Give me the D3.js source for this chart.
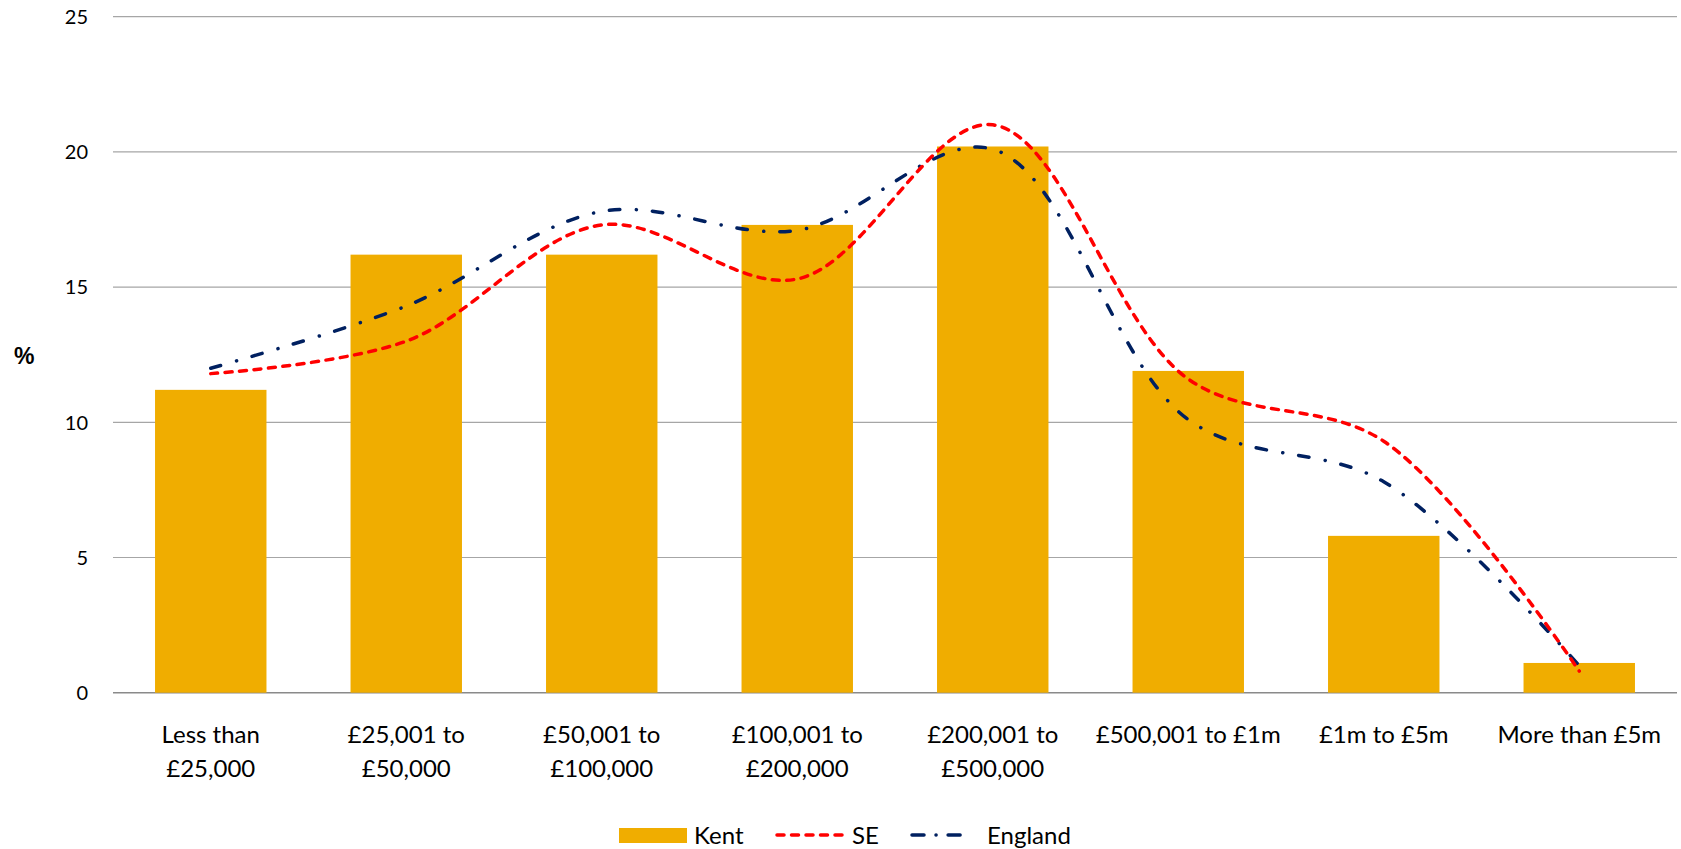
<!DOCTYPE html>
<html>
<head>
<meta charset="utf-8">
<script src="https://cdn.jsdelivr.net/npm/d3@7"></script>
<style>
  body { margin: 0; background: #fff; }
  text { font-family: Lato, "Open Sans", sans-serif; fill: #000; }
</style>
</head>
<body>
<div id="chart"></div>
<script>
const categories = [
  "Less than\n£25,000", "£25,001 to\n£50,000", "£50,001 to\n£100,000",
  "£100,001 to\n£200,000", "£200,001 to\n£500,000", "£500,001 to £1m",
  "£1m to £5m", "More than £5m"
];
const kent = [11.2, 16.2, 16.2, 17.3, 20.2, 11.9, 5.8, 1.1];
const se = [11.8, 13.0, 17.3, 15.3, 21.0, 11.6, 9.3, 0.8];
const england = [12.0, 14.3, 17.8, 17.1, 20.1, 10.1, 7.8, 1.0];
const yTicks = [0, 5, 10, 15, 20, 25];

const width = 1681, height = 849;
const margin = {top: 16.7, right: 4, bottom: 156.3, left: 113};

const svg = d3.select("#chart").append("svg")
  .attr("width", width)
  .attr("height", height);

const x = d3.scaleBand()
  .domain(d3.range(categories.length))
  .range([margin.left, width - margin.right])
  .paddingInner(0.43)
  .paddingOuter(0.215);

const y = d3.scaleLinear()
  .domain([0, 25])
  .range([height - margin.bottom, margin.top]);

// gridlines
svg.append("g")
  .selectAll("line")
  .data(yTicks)
  .join("line")
  .attr("x1", margin.left)
  .attr("x2", width - margin.right)
  .attr("y1", d => y(d))
  .attr("y2", d => y(d))
  .attr("stroke", d => d === 0 ? "#8a8a8a" : "#a6a6a6")
  .attr("stroke-width", d => d === 0 ? 1.5 : 1.2);

// y labels
svg.append("g")
  .selectAll("text")
  .data(yTicks)
  .join("text")
  .attr("x", 88)
  .attr("y", d => y(d))
  .attr("dy", "0.36em")
  .attr("text-anchor", "end")
  .style("font-size", "20px")
  .text(d => d);

svg.append("text")
  .attr("x", 14)
  .attr("y", 364)
  .style("font-family", "Arial, 'Liberation Sans', sans-serif")
  .style("font-weight", "bold")
  .style("font-size", "23px")
  .text("%");

// bars
svg.append("g")
  .selectAll("rect")
  .data(kent)
  .join("rect")
  .attr("x", (d, i) => x(i))
  .attr("width", x.bandwidth())
  .attr("y", d => y(d))
  .attr("height", d => y(0) - y(d))
  .attr("fill", "#f0ad00");

// x labels
const xl = svg.append("g")
  .selectAll("text")
  .data(categories)
  .join("text")
  .attr("text-anchor", "middle")
  .attr("x", (d, i) => x(i) + x.bandwidth() / 2)
  .attr("y", 743)
  .style("font-size", "24px");
xl.selectAll("tspan")
  .data(d => d.split("\n"))
  .join("tspan")
  .attr("x", function() { return this.parentNode.getAttribute("x"); })
  .attr("dy", (d, i) => i === 0 ? 0 : 34)
  .text(d => d);

// lines
const line = d3.line()
  .x((d, i) => x(i) + x.bandwidth() / 2)
  .y(d => y(d))
  .curve(d3.curveCatmullRom.alpha(0.5));

svg.append("path")
  .datum(england)
  .attr("d", line)
  .attr("fill", "none")
  .attr("stroke", "#002060")
  .attr("stroke-width", 3.5)
  .attr("stroke-linecap", "round")
  .attr("stroke-dasharray", "10.5,16.5,0.1,16");

svg.append("path")
  .datum(se)
  .attr("d", line)
  .attr("fill", "none")
  .attr("stroke", "#ff0000")
  .attr("stroke-width", 3.5)
  .attr("stroke-linecap", "round")
  .attr("stroke-dasharray", "7,7.5");

// legend
const lg = svg.append("g");
lg.append("rect")
  .attr("x", 619).attr("y", 828)
  .attr("width", 68).attr("height", 15)
  .attr("fill", "#f0ad00");
lg.append("text").attr("x", 694).attr("y", 844).style("font-size", "24px").text("Kent");
lg.append("line")
  .attr("x1", 777).attr("x2", 845).attr("y1", 835).attr("y2", 835)
  .attr("stroke", "#ff0000").attr("stroke-width", 3.5)
  .attr("stroke-linecap", "round").attr("stroke-dasharray", "7,7.5");
lg.append("text").attr("x", 852).attr("y", 844).style("font-size", "24px").text("SE");
lg.append("line")
  .attr("x1", 912).attr("x2", 967).attr("y1", 835).attr("y2", 835)
  .attr("stroke", "#002060").attr("stroke-width", 3.5)
  .attr("stroke-linecap", "round").attr("stroke-dasharray", "12,12,0.1,12");
lg.append("text").attr("x", 987).attr("y", 844).style("font-size", "24px").text("England");
</script>
</body>
</html>
